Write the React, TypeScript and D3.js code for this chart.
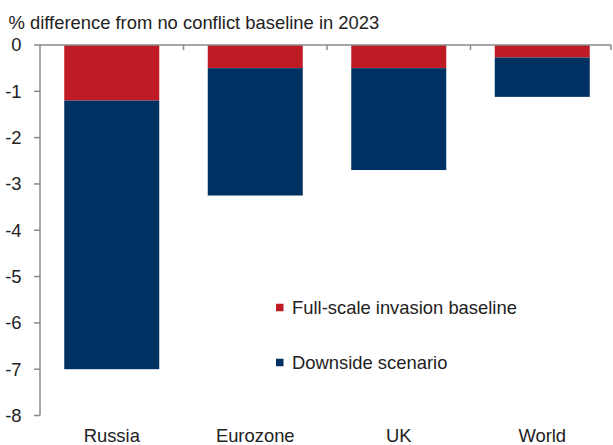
import React from "react";
import * as d3 from "d3";

const categories = ["Russia", "Eurozone", "UK", "World"];
const baselineValues = [-1.2, -0.5, -0.5, -0.27];
const downsideValues = [-7.0, -3.25, -2.7, -1.12];
const yTicks = [0, -1, -2, -3, -4, -5, -6, -7, -8];
const seriesNames = ["Full-scale invasion baseline", "Downside scenario"];
const title = "% difference from no conflict baseline in 2023";

const RED = "#BF1B24";
const BLUE = "#003163";
const AXIS = "#8a8a8a";
const TEXT = "#222222";
const FONT = "'Liberation Sans', Arial, sans-serif";
const FS = 18.4;

export default function App() {
  const W = 613, H = 445;
  const left = 40, right = 614, top = 45, bottom = 415.5;
  const x = d3.scaleBand<string>().domain(categories).range([left, right]).paddingInner(0.338).paddingOuter(0.169);
  const y = d3.scaleLinear().domain([-8, 0]).range([bottom, top]);
  const step = x.step();
  const bw = x.bandwidth();
  const boundaries = categories.map((c) => (x(c) as number) + bw + (step - bw) / 2);

  return (
    <svg width={W} height={H} style={{ position: "absolute", left: 0, top: 0, background: "#fff" }} fontFamily={FONT}>
      <text x={8.5} y={28.5} fontSize={FS} fill={TEXT}>{title}</text>

      {categories.map((c, i) => (
        <g key={c}>
          <rect x={x(c)} y={y(0)} width={bw} height={y(baselineValues[i]) - y(0)} fill={RED} />
          <rect x={x(c)} y={y(baselineValues[i])} width={bw} height={y(downsideValues[i]) - y(baselineValues[i])} fill={BLUE} />
        </g>
      ))}

      {/* y axis */}
      <line x1={left} x2={left} y1={y(0)} y2={y(-8)} stroke={AXIS} strokeWidth={1.5} />
      {yTicks.map((t) => (
        <g key={t}>
          <line x1={left - 6} x2={left} y1={y(t)} y2={y(t)} stroke={AXIS} strokeWidth={1.5} />
          <text x={21.5} y={y(t)} dy="0.35em" textAnchor="end" fontSize={FS} fill={TEXT}>{t}</text>
        </g>
      ))}

      {/* zero axis */}
      <line x1={left} x2={611} y1={y(0)} y2={y(0)} stroke={AXIS} strokeWidth={1.5} />
      {boundaries.map((b, i) => (
        <line key={i} x1={Math.min(b, 611)} x2={Math.min(b, 611)} y1={y(0)} y2={y(0) + 5} stroke={AXIS} strokeWidth={1.5} />
      ))}

      {categories.map((c) => (
        <text key={c} x={(x(c) as number) + bw / 2} y={441.5} textAnchor="middle" fontSize={FS} fill={TEXT}>{c}</text>
      ))}

      {/* legend */}
      {seriesNames.map((s, i) => (
        <g key={s} transform={`translate(276, ${i === 0 ? 307.5 : 362.5})`}>
          <rect x={0} y={-3.75} width={7.5} height={7.5} fill={i === 0 ? RED : BLUE} />
          <text x={16} y={0} dy="0.35em" fontSize={FS} fill={TEXT}>{s}</text>
        </g>
      ))}
    </svg>
  );
}
